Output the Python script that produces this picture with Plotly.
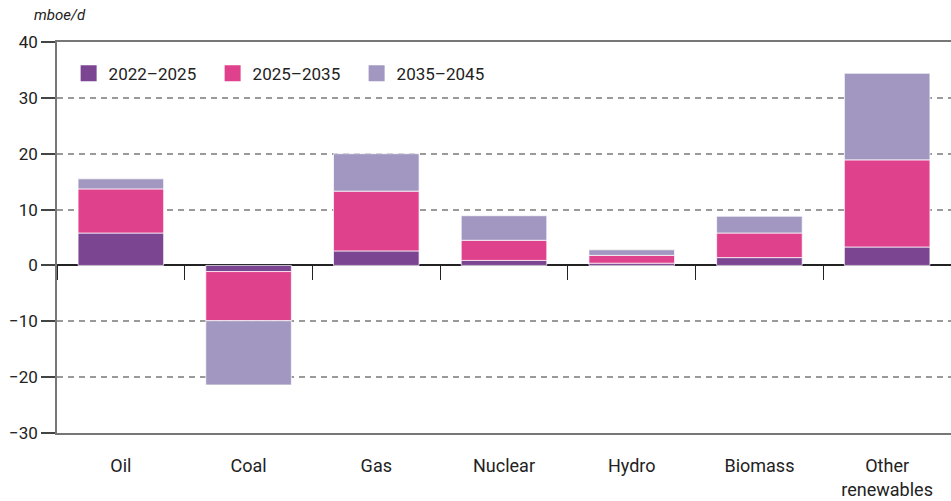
import plotly.graph_objects as go

categories = ["Oil", "Coal", "Gas", "Nuclear", "Hydro", "Biomass", "Other<br>renewables"]
series_names = ["2022–2025", "2025–2035", "2035–2045"]
v_2022_2025 = [5.8, -1.1, 2.6, 0.9, 0.4, 1.4, 3.3]
v_2025_2035 = [7.9, -8.8, 10.7, 3.6, 1.4, 4.4, 15.6]
v_2035_2045 = [1.8, -11.5, 6.7, 4.4, 1.0, 3.0, 15.5]
colors = ["#7B4592", "#E0418C", "#A197C0"]
y_ticks = [-30, -20, -10, 0, 10, 20, 30, 40]

FONT = "Roboto"
fig = go.Figure()
for name, vals, col in zip(series_names, [v_2022_2025, v_2025_2035, v_2035_2045], colors):
    fig.add_trace(go.Bar(x=categories, y=vals, name=name, marker_color=col,
                         marker_line=dict(color="rgba(255,255,255,0.7)", width=1),
                         width=0.67, showlegend=False, legendgroup=name))
# legend entries with larger square swatches
for name, col in zip(series_names, colors):
    fig.add_trace(go.Scatter(x=[None], y=[None], mode="markers", name=name, legendgroup=name,
                             marker=dict(symbol="square", size=16, color=col), showlegend=True))

# dummy trace for secondary axis at zero line (category boundary ticks)
fig.add_trace(go.Scatter(x=categories, y=[0]*len(categories), xaxis="x2", mode="lines",
                         line=dict(width=0), showlegend=False, hoverinfo="skip"))

ymin, ymax = -30, 40
fig.update_layout(
    width=951, height=501,
    margin=dict(l=57, r=0, t=42, b=68),
    barmode="relative",
    plot_bgcolor="white", paper_bgcolor="white",
    font=dict(family=FONT, size=17, color="#222"),
    showlegend=True,
    legend=dict(orientation="h", x=0.013, y=0.965, xanchor="left", yanchor="top",
                font=dict(size=17, color="#222"), traceorder="normal",
                entrywidth=99, entrywidthmode="pixels",
                bgcolor="rgba(0,0,0,0)"),
    xaxis=dict(type="category", showline=True, linecolor="#777", linewidth=1.5, mirror=True,
               ticks="outside", ticklen=16, tickcolor="rgba(0,0,0,0)", showgrid=False,
               tickfont=dict(size=18), range=[-0.5, 6.5], automargin=False),
    xaxis2=dict(type="category", overlaying="x", anchor="free",
                position=(0 - ymin) / (ymax - ymin), matches="x",
                tickson="boundaries", ticks="outside", ticklen=14, tickcolor="#222",
                showticklabels=False, showline=False, showgrid=False, side="bottom",
                automargin=False),
    yaxis=dict(range=[ymin, ymax], tickvals=y_ticks, showline=True, linecolor="#777", linewidth=1.5,
               ticks="outside", ticklen=14, tickcolor="#444", tickwidth=1.5,
               showgrid=True, gridcolor="#9a9a9a", griddash="6px,5px", gridwidth=1.5,
               zeroline=True, zerolinecolor="#222", zerolinewidth=1.5,
               tickfont=dict(size=17), automargin=False),
    annotations=[dict(text="<i>mboe/d</i>", xref="paper", yref="paper",
                      x=-0.028, y=1.07, xanchor="left", yanchor="middle",
                      showarrow=False, font=dict(size=15, color="#222"))],
)

fig.write_html("out.html", config={"displayModeBar": False},
               post_script="document.body.style.margin='0';document.body.style.overflow='hidden';")
